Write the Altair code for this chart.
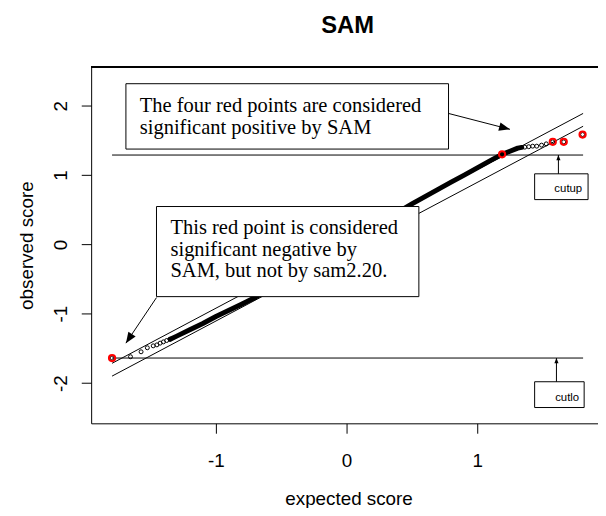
import altair as alt
import pandas as pd

# ---------------- data ----------------
x_domain = [-1.955, 1.924]
y_domain = [-2.581, 2.561]
x_ticks = [-1, 0, 1]
y_ticks = [-2, -1, 0, 1, 2]

# dense part of the Q-Q cloud (expected, observed)
band_x = [-1.35, -1.30, -1.20, -1.10, -1.00, -0.90, -0.80, -0.70, -0.60, -0.50,
          -0.40, -0.30, -0.20, -0.10, 0.00, 0.10, 0.20, 0.30, 0.40, 0.50,
          0.60, 0.70, 0.80, 0.90, 1.00, 1.10, 1.19, 1.25, 1.31, 1.34]
band_y = [-1.367, -1.323, -1.23, -1.14, -1.04, -0.95, -0.86, -0.765, -0.655, -0.54,
          -0.43, -0.315, -0.20, -0.09, 0.02, 0.135, 0.25, 0.36, 0.475, 0.585,
          0.69, 0.795, 0.90, 1.00, 1.105, 1.21, 1.30, 1.345, 1.39, 1.40]

# individually visible points in the tails
pt_x = [-1.795, -1.654, -1.573, -1.525, -1.48, -1.452, -1.427, -1.402, -1.377, -1.351,
        1.19, 1.364, 1.394, 1.424, 1.455, 1.492, 1.528, 1.578, 1.662, 1.806]
pt_y = [-1.639, -1.62, -1.549, -1.491, -1.463, -1.449, -1.424, -1.406, -1.386, -1.367,
        1.30, 1.404, 1.41, 1.418, 1.418, 1.433, 1.451, 1.48, 1.48, 1.586]

# significant (red) points
red_x = [-1.795, 1.19, 1.578, 1.662, 1.806]
red_y = [-1.639, 1.30, 1.48, 1.48, 1.586]

# delta band lines and cut-offs
line_x = [-1.795, 1.81]
upper_y = [-1.715, 1.89]
lower_y = [-1.90, 1.705]
cutup = 1.29
cutlo = -1.639

# annotation boxes (x1, x2, y1, y2)
box_x1 = [-1.689, -1.455, 1.439, 1.439]
box_x2 = [0.780, 0.553, 1.848, 1.818]
box_y1 = [2.319, 0.547, 1.019, -1.981]
box_y2 = [1.376, -0.753, 0.647, -2.353]

note_text = ["The four red points are considered", "significant positive by SAM",
             "This red point is considered", "significant negative by",
             "SAM, but not by sam2.20."]
note_x = [-1.583, -1.583, -1.348, -1.348, -1.348]
note_y = [1.904, 1.59, 0.157, -0.16, -0.474]

cut_text = ["cutup", "cutlo"]
cut_tx = [1.803, 1.78]
cut_ty = [0.751, -2.263]

# arrows (from -> to)
arr_x0 = [0.780, -1.455, 1.621, 1.606]
arr_y0 = [1.89, -0.767, 1.019, -1.981]
arr_x1 = [1.25, -1.689, 1.621, 1.606]
arr_y1 = [1.661, -1.424, 1.29, -1.639]
arr_angle = [14.5, 124, 270, 270]
arr_size = [484, 484, 110, 110]

main_title = ["SAM"]

# ---------------- chart ----------------
W, H = 512, 360
xs = alt.Scale(domain=x_domain, nice=False, zero=False)
ys = alt.Scale(domain=y_domain, nice=False, zero=False)

xaxis = alt.Axis(values=x_ticks, tickSize=10, labelFontSize=19, labelFont="Liberation Sans",
                 labelPadding=34, labelBaseline="alphabetic", labelFlush=False,
                 labelExpr="'' + datum.value",
                 title="expected score", titleFontSize=19, titleFont="Liberation Sans",
                 titleFontWeight="normal", titleX=260, titleY=82, titleAlign="center",
                 titleBaseline="alphabetic", grid=False)
yaxis = alt.Axis(values=y_ticks, tickSize=10, labelFontSize=19, labelFont="Liberation Sans",
                 labelAngle=270, labelAlign="center", labelBaseline="alphabetic",
                 labelPadding=15, labelFlush=False, labelExpr="'' + datum.value",
                 title="observed score", titleFontSize=19, titleFont="Liberation Sans",
                 titleFontWeight="normal", titleAngle=270, titleX=-59, titleY=180,
                 titleAlign="center", titleBaseline="alphabetic", grid=False)

lines_df = pd.DataFrame({
    "x": line_x * 4,
    "y": upper_y + lower_y + [cutup, cutup] + [cutlo, cutlo],
    "g": ["u", "u", "l", "l", "cu", "cu", "cl", "cl"],
})
ref_lines = alt.Chart(lines_df).mark_line(color="black", strokeWidth=1).encode(
    x=alt.X("x:Q", scale=xs, axis=xaxis),
    y=alt.Y("y:Q", scale=ys, axis=yaxis),
    detail="g:N",
)

band_df = pd.DataFrame({"x": band_x, "y": band_y})
band = alt.Chart(band_df).mark_line(color="black", strokeWidth=5, strokeCap="round",
                                   strokeJoin="round").encode(
    x=alt.X("x:Q", scale=xs), y=alt.Y("y:Q", scale=ys))

pts_df = pd.DataFrame({"x": pt_x, "y": pt_y})
pts = alt.Chart(pts_df).mark_point(shape="circle", size=16, filled=False, color="black",
                                   strokeWidth=1, opacity=1).encode(
    x=alt.X("x:Q", scale=xs), y=alt.Y("y:Q", scale=ys))

red_df = pd.DataFrame({"x": red_x, "y": red_y})
reds = alt.Chart(red_df).mark_point(shape="circle", size=40, filled=False, color="#ff0000",
                                    strokeWidth=2, opacity=1).encode(
    x=alt.X("x:Q", scale=xs), y=alt.Y("y:Q", scale=ys))

box_df = pd.DataFrame({"x1": box_x1, "x2": box_x2, "y1": box_y1, "y2": box_y2})
boxes = alt.Chart(box_df).mark_rect(fill="white", stroke="black", strokeWidth=1).encode(
    x=alt.X("x1:Q", scale=xs), x2="x2:Q", y=alt.Y("y1:Q", scale=ys), y2="y2:Q")

note_df = pd.DataFrame({"x": note_x, "y": note_y, "t": note_text})
notes = alt.Chart(note_df).mark_text(font="Liberation Serif", fontSize=20.7, align="left",
                                     baseline="alphabetic", color="black").encode(
    x=alt.X("x:Q", scale=xs), y=alt.Y("y:Q", scale=ys), text="t:N")

cut_df = pd.DataFrame({"x": cut_tx, "y": cut_ty, "t": cut_text})
cuts = alt.Chart(cut_df).mark_text(font="Liberation Sans", fontSize=11.5, align="right",
                                   baseline="alphabetic", color="black").encode(
    x=alt.X("x:Q", scale=xs), y=alt.Y("y:Q", scale=ys), text="t:N")

arr_df = pd.DataFrame({"x0": arr_x0, "y0": arr_y0, "x1": arr_x1, "y1": arr_y1,
                       "a": arr_angle, "s": arr_size})
shafts = alt.Chart(arr_df).mark_rule(color="black", strokeWidth=1).encode(
    x=alt.X("x0:Q", scale=xs), y=alt.Y("y0:Q", scale=ys), x2="x1:Q", y2="y1:Q")
heads = alt.Chart(arr_df).mark_point(shape="M0,0L-1,-0.4L-1,0.4Z", filled=True,
                                     color="black", opacity=1, strokeWidth=0).encode(
    x=alt.X("x1:Q", scale=xs), y=alt.Y("y1:Q", scale=ys),
    angle=alt.Angle("a:Q", scale=None), size=alt.Size("s:Q", scale=None, legend=None))

top_border = alt.Chart(lines_df).mark_rule(color="black", strokeWidth=1).encode(
    x=alt.value(0), x2=alt.value(W), y=alt.value(0))

title_df = pd.DataFrame({"t": main_title})
title_mark = alt.Chart(title_df).mark_text(font="Liberation Sans", fontSize=24,
                                           fontWeight="bold", align="center",
                                           baseline="alphabetic", color="black").encode(
    x=alt.value(259), y=alt.value(-34), text="t:N")

chart = alt.layer(ref_lines, band, pts, reds, boxes, notes, cuts, shafts, heads,
                  top_border, title_mark
).properties(
    width=W, height=H,
    autosize=alt.AutoSizeParams(type="none"),
    padding={"left": 84, "top": 57, "right": 0, "bottom": 83},
).configure_view(stroke=None).configure_axis(
    domainColor="black", tickColor="black", labelColor="black", titleColor="black",
    domainWidth=1, tickWidth=1)

chart.save("out.html", embed_options={"renderer": "svg", "actions": False})
